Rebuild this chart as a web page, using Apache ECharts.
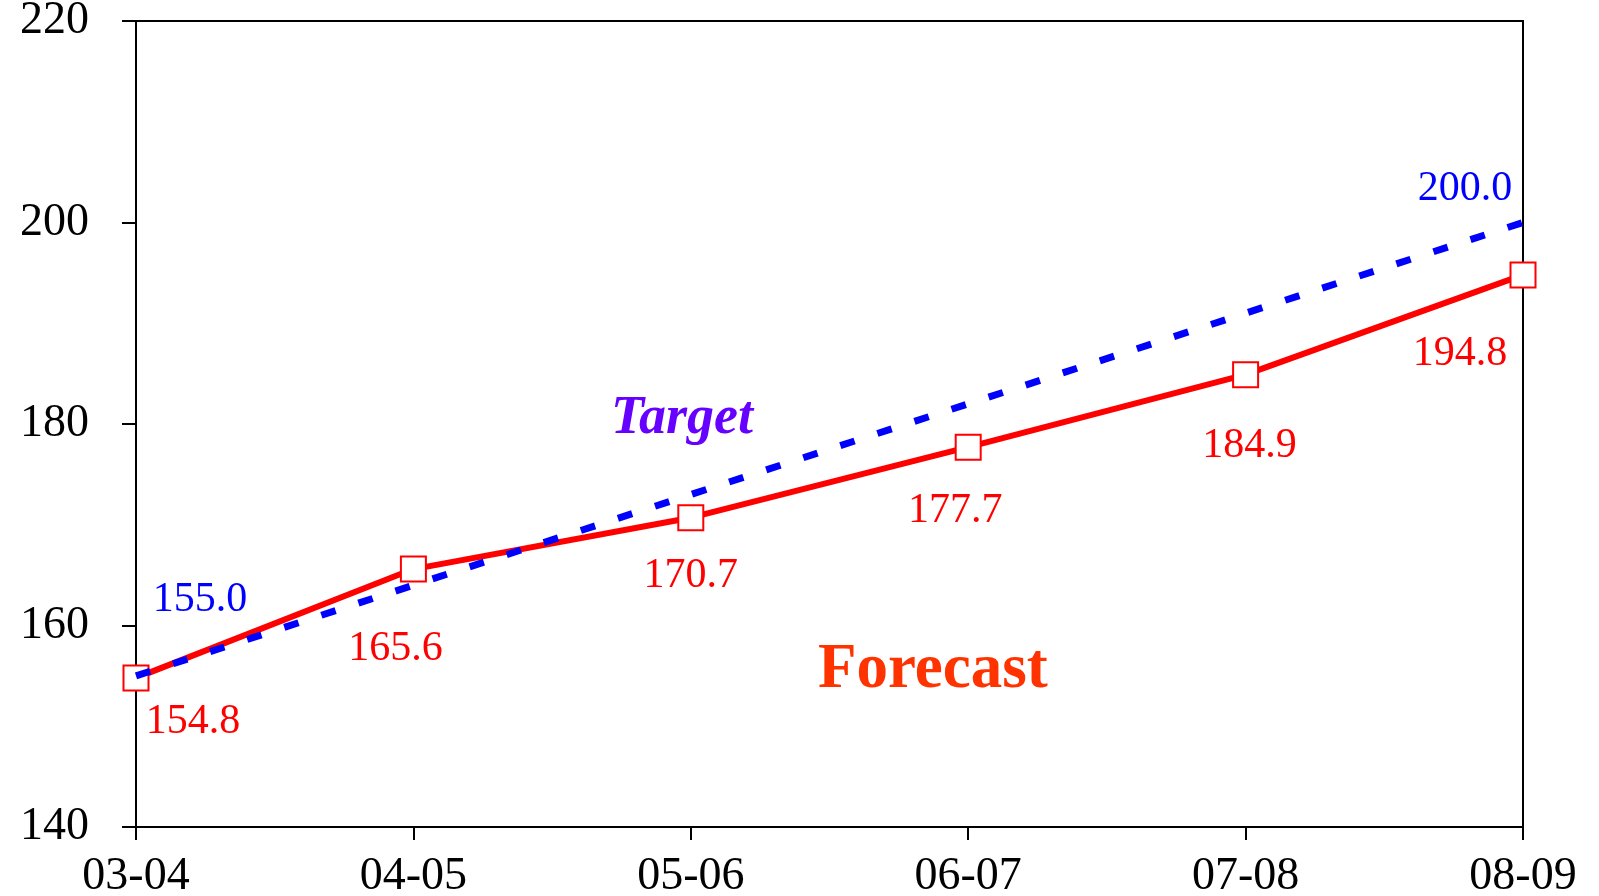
<!DOCTYPE html>
<html>
<head>
<meta charset="utf-8">
<script src="https://cdn.jsdelivr.net/npm/echarts@6/dist/echarts.min.js"></script>
<style>html,body{margin:0;padding:0;background:#fff}#c{width:1599px;height:896px}</style>
</head>
<body>
<div id="c"></div>
<script>
const categories = ['03-04', '04-05', '05-06', '06-07', '07-08', '08-09'];
const forecastValues = [154.8, 165.6, 170.7, 177.7, 184.9, 194.8];
const targetValues = [155.0, 164.0, 173.0, 182.0, 191.0, 200.0];
const yTicks = { min: 140, max: 220, interval: 20 };

// label offsets (relative to point)
const forecastLabelOffsets = [[57, 44], [-18, 80], [0, 58], [-13, 64], [4, 71], [-63, 79]];
const targetLabelShow = [true, false, false, false, false, true];
const targetLabelOffsets = [[64, -76], [0, 0], [0, 0], [0, 0], [0, 0], [-58, -34]];

const FONT = '"Liberation Serif", "Times New Roman", serif';
const chart = echarts.init(document.getElementById('c'));
chart.setOption({
  animation: false,
  backgroundColor: '#fff',
  grid: { left: 136, right: 76, top: 21, bottom: 69, show: true, borderColor: '#000', borderWidth: 2, backgroundColor: 'transparent', containLabel: false, outerBoundsMode: 'none' },
  xAxis: {
    type: 'category', data: categories, boundaryGap: false,
    axisLine: { lineStyle: { color: '#000', width: 2 } },
    axisTick: { show: true, alignWithLabel: true, length: 13, lineStyle: { color: '#000', width: 2 } },
    axisLabel: { color: '#000', fontFamily: FONT, fontSize: 46, margin: 27 },
    splitLine: { show: false }
  },
  yAxis: {
    type: 'value', min: yTicks.min, max: yTicks.max, interval: yTicks.interval,
    axisLine: { show: true, lineStyle: { color: '#000', width: 2 } },
    axisTick: { show: true, length: 14, lineStyle: { color: '#000', width: 2 } },
    axisLabel: { color: '#000', fontFamily: FONT, fontSize: 46, margin: 47 },
    splitLine: { show: false }
  },
  series: [
    {
      name: 'Forecast', type: 'line', z: 2,
      data: forecastValues.map((v, i) => ({
        value: v,
        label: { show: true, position: 'inside', offset: forecastLabelOffsets[i] }
      })),
      symbol: 'rect', symbolSize: 25,
      itemStyle: { color: '#fff', borderColor: '#ff0000', borderWidth: 2 },
      lineStyle: { color: '#ff0000', width: 6 },
      label: { color: '#ff0000', fontFamily: FONT, fontSize: 42, formatter: p => p.value.toFixed(1) }
    },
    {
      name: 'Target', type: 'line', z: 3,
      data: targetValues.map((v, i) => ({
        value: v,
        label: { show: targetLabelShow[i], position: 'inside', offset: targetLabelOffsets[i] }
      })),
      symbol: 'circle', symbolSize: 1,
      itemStyle: { color: 'rgba(0,0,0,0)', borderWidth: 0 },
      lineStyle: { color: '#0000ff', width: 7, type: [15, 24] },
      label: { color: '#0000ff', fontFamily: FONT, fontSize: 42, formatter: p => p.value.toFixed(1) }
    }
  ],
  graphic: [
    { type: 'text', left: 611, top: 392, style: { text: 'Target', fill: '#6600ff', font: 'italic bold 54px ' + FONT } },
    { type: 'text', left: 818, top: 639, style: { text: 'Forecast', fill: '#ff3300', font: 'bold 63px ' + FONT } }
  ]
});
</script>
</body>
</html>
